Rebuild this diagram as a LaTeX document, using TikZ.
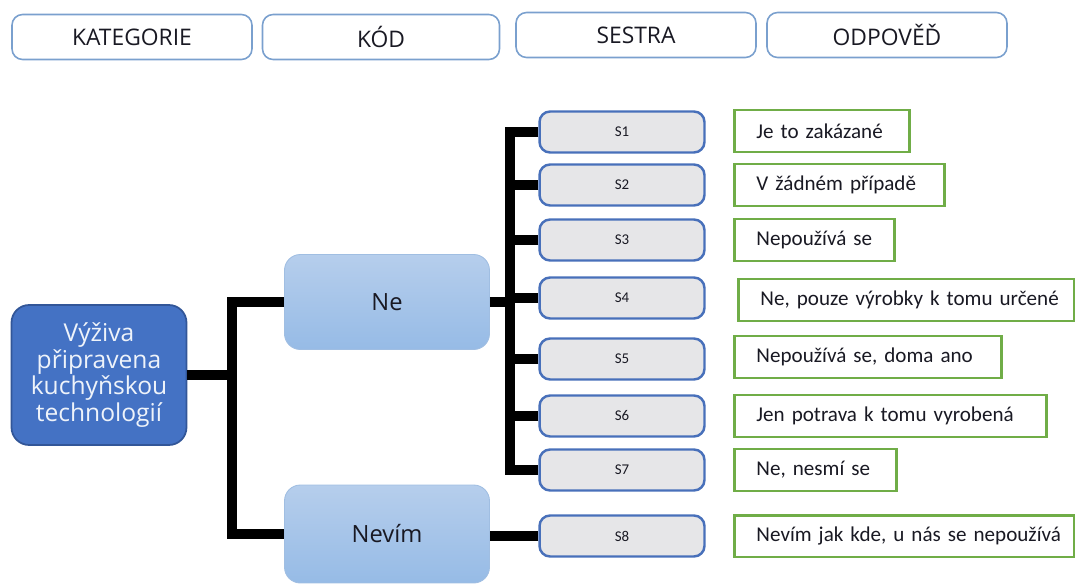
\documentclass[tikz,border=0pt]{standalone}
\usepackage{fontspec}
\setmainfont{Carlito}
\newfontfamily\headfont{Open Sans}
\usepackage{xcolor}
\usepackage{tikz}
\usetikzlibrary{positioning,calc}

\definecolor{headline}{RGB}{122,160,206}
\definecolor{rootfill}{RGB}{68,114,196}
\definecolor{rootline}{RGB}{50,86,152}
\definecolor{roottext}{RGB}{238,243,250}
\definecolor{branchtop}{RGB}{182,206,236}
\definecolor{branchbot}{RGB}{150,187,230}
\definecolor{branchline}{RGB}{160,190,226}
\definecolor{nurseline}{RGB}{72,112,186}
\definecolor{nursefill}{RGB}{230,230,232}
\definecolor{answerline}{RGB}{112,173,71}
\definecolor{inktext}{RGB}{25,25,35}

\begin{document}
\begin{tikzpicture}[
  x=0.02cm, y=-0.02cm,
  head/.style={draw=headline, line width=0.9pt, rounded corners=6pt,
    minimum width=4.8cm, minimum height=0.9cm, text=inktext,
    font=\headfont\fontsize{13}{15}\selectfont},
  root/.style={draw=rootline, fill=rootfill, line width=1pt, rounded corners=10pt,
    minimum width=3.5cm, minimum height=2.8cm, align=center, text=roottext,
    font=\headfont\fontsize{14}{15.3}\selectfont},
  branch/.style={draw=branchline, top color=branchtop, bottom color=branchbot,
    line width=0.5pt, rounded corners=9pt, minimum width=4.1cm, text=inktext,
    font=\headfont\fontsize{13.5}{16}\selectfont},
  nurse/.style={draw=nurseline, fill=nursefill, line width=1.4pt, rounded corners=6pt,
    minimum width=3.3cm, minimum height=0.82cm, text=inktext,
    font=\fontsize{8.5}{10}\selectfont},
  answer/.style={draw=answerline, fill=white, line width=1.7pt, anchor=west,
    minimum height=0.84cm, inner xsep=0.44cm, align=left, text=inktext,
    font=\fontsize{12}{14}\selectfont},
  bar/.style={line width=6.2pt, black}
]
\useasboundingbox (0,0) rectangle (1075,584);

% Header row
\node[head] (kat) at (132,37) {KATEGORIE};
\node[head, minimum width=4.74cm] (kod) at (381,37) {KÓD};
\node[head] (ses) at (636,35) {SESTRA};
\node[head] (odp) at (887,35) {ODPOVĚĎ};

% Category and codes
\node[root] (vyziva) at (99,375) {Výživa\\připravena\\kuchyňskou\\technologií};
\node[branch, minimum height=1.9cm] (ne) at (387,302) {Ne};
\node[branch, minimum height=1.96cm] (nevim) at (387,534) {Nevím};

% Nurses
\foreach \i/\y in {1/132,2/185,3/240,4/298,5/359,6/416,7/470,8/536}
  \node[nurse] (s\i) at (622,\y) {S\i};

% Answers
\foreach \i/\y/\l/\r/\txt in {
    1/131/733/908/{Je to zakázané},
    2/185/733/943/{V žádném případě},
    3/240/733/893/{Nepoužívá se},
    4/300/737/1073/{Ne, pouze výrobky k tomu určené},
    5/357/733/1000/{Nepoužívá se, doma ano},
    6/416/733/1045/{Jen potrava k tomu vyrobená},
    7/470/733/895/{Ne, nesmí se},
    8/536/733/1073/{Nevím jak kde, u nás se nepoužívá}}
{
  \pgfmathsetmacro\tw{(\r-\l-44)*0.02}
  \node[answer, text width=\tw cm] (a\i) at (\l,\y) {\mbox{\txt}};
}

% Left fork
\coordinate (forkL) at (232,302);
\draw[bar] (ne.west) -- (forkL) |- (nevim.west);
\draw[bar] (vyziva.east) -- (vyziva.east -| forkL);

% Right fork
\coordinate (forkR) at (510,302);
\draw[bar] (ne.east) -- (forkR);
\draw[bar] (s1.west) -| (forkR) |- (s7.west);
\foreach \i in {2,...,6}
  \draw[bar] (s\i.west) -- (s\i.west -| forkR);
\draw[bar] (s8.west) -- (s8.west -| nevim.east);

\end{tikzpicture}
\end{document}
